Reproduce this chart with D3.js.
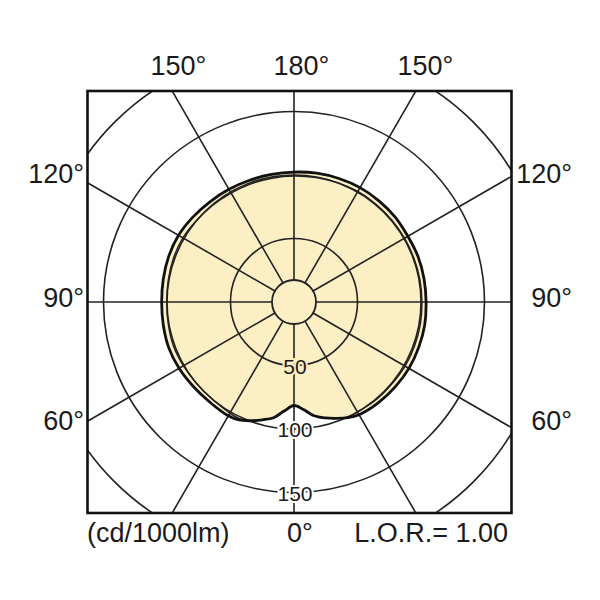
<!DOCTYPE html>
<html><head><meta charset="utf-8">
<script src="https://cdn.jsdelivr.net/npm/d3@7"></script>
<style>body{margin:0;background:#fff}svg{display:block}text{font-family:"Liberation Sans",Arial,sans-serif;fill:#1a1a1a}</style>
</head><body>
<script>
// angles from nadir (0° = straight down), degrees
const angles = [0,5,10,15,20,25,30,40,50,60,70,80,90,100,110,120,130,140,150,160,170,180];
// outer curve (C0-C180 plane), cd/1000lm
const outerLeft  = [81.5,86,92.5,96,99.5,102.5,103.5,103,103.5,104.5,105,104.5,104.2,104.5,105,105,104,103,102.5,102,102,102.3];
const outerRight = [81.5,85,91,94.5,97.5,100.5,102.5,103.5,104,104.5,104.5,104.5,104,104,104,103.5,104,104,104,103.5,103,102.3];
// inner curve (C90-C270 plane), cd/1000lm
const innerLeft  = [81.5,86,92.5,96,99.5,101.5,101,100,100,100.5,101,100.5,100.2,100.5,101,101,100,99.5,99,99,99,99.2];
const innerRight = [81.5,85,91,94.5,97.5,100,100,100.5,100.5,101,101,101,100.7,100.7,100.5,100.5,100.5,100.5,100.5,100,99.5,99.2];
const gridValues = [50,100,150,200];
const gridLabels = ["50","100","150"];
const spokeAngles = d3.range(0,360,30);
const topLabels = ["150°","180°","150°"];
const sideLabels = ["120°","90°","60°"];
const bottomTexts = ["(cd/1000lm)","0°","L.O.R.= 1.00"];

const W=600,H=600, cx=294, cy=302;
const box = {x0:87.5, x1:511.5, y0:91, y1:513};
const r = d3.scaleLinear().domain([0,200]).range([0,254]);
const hub = 22;
const rad = d => d*Math.PI/180;

const svg = d3.select("body").append("svg").attr("width",W).attr("height",H);
svg.append("defs").append("clipPath").attr("id","clip").append("rect")
  .attr("x",box.x0).attr("y",box.y0).attr("width",box.x1-box.x0).attr("height",box.y1-box.y0);

function pts(left,right){
  const p=[];
  angles.forEach((a,i)=>p.push([Math.PI - rad(a), r(right[i])]));
  for(let i=angles.length-2;i>0;i--) p.push([Math.PI + rad(angles[i]), r(left[i])]);
  return p;
}
const line = d3.lineRadial().angle(d=>d[0]).radius(d=>d[1]).curve(d3.curveCatmullRomClosed.alpha(0.5));

const g = svg.append("g").attr("clip-path","url(#clip)").append("g").attr("transform",`translate(${cx},${cy})`);
const outerD = line(pts(outerLeft,outerRight));
const innerD = line(pts(innerLeft,innerRight));

g.append("path").attr("d",outerD).attr("fill","#fcefc3").attr("stroke","none");

// grid
g.selectAll("circle.grid").data(gridValues).join("circle").attr("class","grid")
  .attr("r",d=>r(d)).attr("fill","none").attr("stroke","#222").attr("stroke-width",1.6);
g.append("circle").attr("r",hub).attr("fill","none").attr("stroke","#222").attr("stroke-width",1.8);
g.selectAll("line.spoke").data(spokeAngles).join("line").attr("class","spoke")
  .attr("x1",d=>hub*Math.sin(rad(d))).attr("y1",d=>hub*Math.cos(rad(d)))
  .attr("x2",d=>420*Math.sin(rad(d))).attr("y2",d=>420*Math.cos(rad(d)))
  .attr("stroke","#222").attr("stroke-width",1.6);

// curves
g.append("path").attr("d",innerD).attr("fill","none").attr("stroke","#222").attr("stroke-width",1.5);
g.append("path").attr("d",outerD).attr("fill","none").attr("stroke","#111").attr("stroke-width",2.8);

// value labels on the 0° axis
const gl = svg.append("g").attr("transform",`translate(${cx},${cy})`);
gl.selectAll("text").data(gridLabels).join("text")
  .attr("x",1).attr("y",(d,i)=>r(gridValues[i])+8).attr("text-anchor","middle")
  .style("font-size","21px")
  .attr("stroke",(d,i)=>i===0?"#fcefc3":"#fff").attr("stroke-width",4).attr("paint-order","stroke")
  .text(d=>d);

// box
svg.append("rect").attr("x",box.x0).attr("y",box.y0).attr("width",box.x1-box.x0).attr("height",box.y1-box.y0)
  .attr("fill","none").attr("stroke","#111").attr("stroke-width",2.6);

// angle labels
const fs="27px";
svg.selectAll("text.top").data(topLabels).join("text").attr("class","top")
  .attr("x",(d,i)=>[178.5,301.5,425.5][i]).attr("y",75).attr("text-anchor","middle").style("font-size",fs).text(d=>d);
svg.selectAll("text.left").data(sideLabels).join("text").attr("class","left")
  .attr("x",84).attr("y",(d,i)=>[183,307,430][i]).attr("text-anchor","end").style("font-size",fs).text(d=>d);
svg.selectAll("text.right").data(sideLabels).join("text").attr("class","right")
  .attr("x",572).attr("y",(d,i)=>[183,307,430][i]).attr("text-anchor","end").style("font-size",fs).text(d=>d);
svg.selectAll("text.bottom").data(bottomTexts).join("text").attr("class","bottom")
  .attr("x",(d,i)=>[87,300,508][i]).attr("y",542).attr("text-anchor",(d,i)=>["start","middle","end"][i])
  .style("font-size",fs).text(d=>d);
</script>
</body></html>
